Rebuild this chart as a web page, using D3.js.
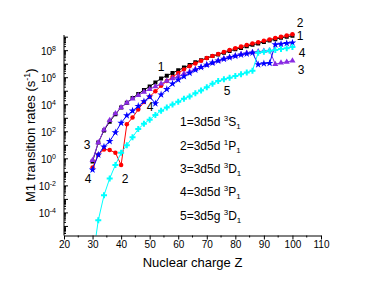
<!DOCTYPE html>
<html><head><meta charset="utf-8">
<script src="https://cdn.jsdelivr.net/npm/d3@7"></script>
<style>body{margin:0;background:#fff}svg{display:block}text{font-family:"Liberation Sans",Arial,sans-serif}</style>
</head><body><svg id="c" width="374" height="286"></svg>
<script>
// Nuclear charge Z
const charges = [30,32,34,36,38,40,42,44,46,48,50,52,54,56,58,60,62,64,66,68,70,72,74,76,78,80,82,84,86,88,90,92,94,96,98,100];
// log10 of M1 transition rates (s^-1)
const log10Rate1 = [-0.2,1.2,2.1,2.75,3.3,3.8,4.15,4.5,4.8,5.1,5.35,5.65,5.95,6.15,6.35,6.55,6.75,6.95,7.15,7.3,7.45,7.6,7.72,7.85,7.97,8.1,8.2,8.32,8.43,8.53,8.65,8.75,8.85,8.95,9.03,9.1];
const log10Rate2 = [-0.65,0.3,0.7,0.65,0.45,-0.45,2.55,3.05,3.65,4.2,4.6,5.0,5.4,5.75,6.05,6.35,6.6,6.85,7.05,7.25,7.45,7.6,7.75,7.9,8.05,8.18,8.3,8.42,8.53,8.63,8.73,8.83,8.93,9.03,9.12,9.22];
const log10Rate3 = [-0.1,1.2,2.15,2.85,3.35,3.8,4.15,4.45,4.7,4.95,5.15,5.35,5.55,5.75,5.95,6.1,6.3,6.45,6.62,6.78,6.95,7.1,7.25,7.4,7.52,7.63,7.73,7.82,7.88,7.93,7.97,8.02,7.0,7.1,7.17,7.25];
const log10Rate4 = [-0.8,0.3,0.9,1.3,1.95,2.65,3.2,3.55,3.9,4.25,4.6,4.1,4.75,5.15,5.55,5.85,6.1,6.35,6.58,6.78,6.95,7.1,7.25,7.38,7.5,7.6,7.7,7.78,7.85,6.98,7.05,7.08,8.45,8.5,8.55,8.58];
const log10Rate5 = [-7.5,-4.55,-2.7,-1.45,-0.45,0.45,1.0,1.6,2.2,2.6,2.9,3.25,3.55,3.8,4.02,4.22,4.45,4.62,4.85,5.05,5.3,5.55,5.75,5.88,6.0,6.12,6.25,6.38,6.52,7.85,7.92,8.0,8.05,8.12,8.18,8.28];
const xTicks = [20,30,40,50,60,70,80,90,100,110];
const yTickExps = [-4,-2,0,2,4,6,8];
const seriesNames = ["1","2","3","4","5"];
const seriesColors = ["#000000","#ff0000","#8a2be2","#0000ff","#00ffff"];
const legendRows = [
  {n:"1", cfg:"3d5d", sup:"3", L:"S", sub:"1"},
  {n:"2", cfg:"3d5d", sup:"1", L:"P", sub:"1"},
  {n:"3", cfg:"3d5d", sup:"3", L:"D", sub:"1"},
  {n:"4", cfg:"3d5d", sup:"3", L:"P", sub:"1"},
  {n:"5", cfg:"3d5g", sup:"3", L:"D", sub:"1"}
];

const svg = d3.select("#c");
const L = 64, R = 321, T = 35, B = 235.5;
const x = d3.scaleLinear().domain([20,110]).range([L,R]);
const y = d3.scaleLog().domain([Math.pow(10,-5.67), Math.pow(10,9.16)]).range([B,T]);

svg.append("defs").append("clipPath").attr("id","clip")
  .append("rect").attr("x",L).attr("y",0).attr("width",R-L+20).attr("height",B);

const all = [log10Rate1,log10Rate2,log10Rate3,log10Rate4,log10Rate5].map(a => a.map((v,i)=>({z:charges[i], r:Math.pow(10,v)})));
const line = d3.line().x(d=>x(d.z)).y(d=>y(d.r));
const symbols = [d3.symbolSquare, d3.symbolCircle, d3.symbolTriangle, d3.symbolStar, d3.symbolCross];
const sizes = [16, 16, 16, 18, 20];
const g = svg.append("g").attr("clip-path","url(#clip)");
all.forEach((data,k)=>{
  g.append("path").datum(data).attr("d",line).attr("fill","none").attr("stroke",seriesColors[k]).attr("stroke-width",1);
  g.selectAll(null).data(data).enter().append("path")
    .attr("d", d3.symbol().type(symbols[k]).size(sizes[k]))
    .attr("transform", d=>`translate(${x(d.z)},${y(d.r)})`)
    .attr("fill", seriesColors[k]);
});

// X axis
const xAxis = svg.append("g").attr("transform",`translate(0,${B})`);
xAxis.call(d3.axisBottom(x).tickValues(xTicks).tickSize(4).tickSizeOuter(0))
  .call(a=>a.select(".domain").attr("stroke","#000"))
  .call(a=>a.selectAll("text").attr("font-size",10).attr("dy","0.5em").style("font-family","Liberation Sans, Arial"));
xAxis.selectAll(".minor").data(d3.range(25,110,10)).enter().append("line")
  .attr("x1",d=>x(d)).attr("x2",d=>x(d)).attr("y1",0).attr("y2",2).attr("stroke","#000");

// Y axis
const yAxis = svg.append("g").attr("transform",`translate(${L},0)`);
yAxis.append("line").attr("x1",0).attr("x2",0).attr("y1",T).attr("y2",B).attr("stroke","#000");
const minor = [];
for (let e=-6;e<=9;e++) for (let m=1;m<=9;m++){ const v=m*Math.pow(10,e); if (v>=y.domain()[0] && v<=y.domain()[1]) minor.push({v, major:m===1}); }
yAxis.selectAll(".yt").data(minor).enter().append("line")
  .attr("x1",0).attr("x2",d=>d.major?4:2).attr("y1",d=>y(d.v)).attr("y2",d=>y(d.v)).attr("stroke","#000");
const yl = yAxis.selectAll(".yl").data(yTickExps).enter().append("text")
  .attr("x",-8).attr("y",d=>y(Math.pow(10,d))+4).attr("text-anchor","end").attr("font-size",10);
yl.append("tspan").text("10");
yl.append("tspan").attr("font-size",7).attr("dy",-4).text(d=>d<0?"-"+Math.abs(d):d);

// titles
svg.append("text").attr("x",(L+R)/2).attr("y",267).attr("text-anchor","middle").attr("font-size",13).text("Nuclear charge Z");
const yt = svg.append("text").attr("transform",`translate(35,${(T+B)/2}) rotate(-90)`).attr("text-anchor","middle").attr("font-size",13);
yt.append("tspan").text("M1 transition rates (s");
yt.append("tspan").attr("font-size",9).attr("dy",-5).text("-1");
yt.append("tspan").attr("dy",5).text(")");

// curve labels
const labels = [
  {t:"1",x:161,y:71},{t:"2",x:300,y:27},{t:"1",x:300,y:40},{t:"4",x:302,y:57},{t:"3",x:301,y:74},
  {t:"5",x:227,y:95},{t:"4",x:150,y:111},{t:"3",x:87,y:149},{t:"4",x:88,y:183},{t:"2",x:125,y:183}
];
svg.selectAll(".cl").data(labels).enter().append("text")
  .attr("x",d=>d.x).attr("y",d=>d.y).attr("text-anchor","middle").attr("font-size",12).text(d=>d.t);

// legend
const legY = [126,150,173,196,220];
const lg = svg.selectAll(".lg").data(legendRows).enter().append("text")
  .attr("x",180).attr("y",(d,i)=>legY[i]).attr("font-size",12);
lg.append("tspan").text(d=>d.n+"="+d.cfg+" ");
lg.append("tspan").attr("font-size",8).attr("dy",-5).text(d=>d.sup);
lg.append("tspan").attr("dy",5).text(d=>d.L);
lg.append("tspan").attr("font-size",8).attr("dy",3).text(d=>d.sub);
</script></body></html>
